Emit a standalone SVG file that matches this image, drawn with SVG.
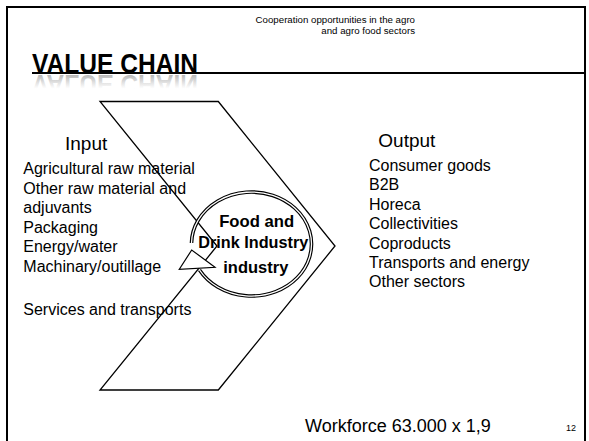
<svg xmlns="http://www.w3.org/2000/svg" width="589" height="441" viewBox="0 0 589 441">
<defs>
<linearGradient id="refl" x1="0" y1="0" x2="0" y2="1">
<stop offset="0.35" stop-color="#888" stop-opacity="0"/>
<stop offset="1" stop-color="#666" stop-opacity="0.75"/>
</linearGradient>
</defs>
<style>
.t{font-family:"Liberation Sans",Arial,sans-serif;fill:#000}
.li{font-size:16px}
.hd{font-size:19px}
.b{font-weight:bold;font-size:17px}
.ln{fill:none;stroke:#000;stroke-width:1.3}
</style>
<rect width="589" height="441" fill="#fff"/>
<g id="frame">
<path d="M7,441 V7 H585 V441" fill="none" stroke="#000" stroke-width="2"/>
<line x1="32" y1="73" x2="585" y2="73" stroke="#000" stroke-width="2"/>
</g>
<g id="header">
<text class="t" x="415" y="23.3" font-size="9.7" text-anchor="end">Cooperation opportunities in the agro</text>
<text class="t" x="415" y="34" font-size="9.7" text-anchor="end">and agro food sectors</text>
</g>
<g id="title">
<text class="t" x="32" y="72.5" font-size="28" font-weight="bold" textLength="166" lengthAdjust="spacingAndGlyphs" style="font-family:'Liberation Sans Narrow','Liberation Sans',sans-serif">VALUE CHAIN</text>
<text x="32" y="72.5" font-size="28" font-weight="bold" textLength="166" lengthAdjust="spacingAndGlyphs" transform="translate(0,147) scale(1,-1)" fill="url(#refl)" style="font-family:'Liberation Sans Narrow','Liberation Sans',sans-serif">VALUE CHAIN</text>
</g>
<g id="chevron">
<polygon class="ln" points="100,101.5 218.3,101.5 335,246 218.3,390 100,390 217,246"/>
</g>
<g id="input">
<text class="t hd" x="65" y="150">Input</text>
<text class="t li" x="23.3" y="174">Agricultural raw material</text>
<text class="t li" x="23.3" y="193.5">Other raw material and</text>
<text class="t li" x="23.3" y="213">adjuvants</text>
<text class="t li" x="23.3" y="232.5">Packaging</text>
<text class="t li" x="23.3" y="252">Energy/water</text>
<text class="t li" x="23.3" y="271.5">Machinary/outillage</text>
<text class="t li" x="23.3" y="315">Services and transports</text>
</g>
<g id="output">
<text class="t hd" x="378.3" y="146.7">Output</text>
<text class="t li" x="369" y="171">Consumer goods</text>
<text class="t li" x="369" y="190.4">B2B</text>
<text class="t li" x="369" y="209.8">Horeca</text>
<text class="t li" x="369" y="229.2">Collectivities</text>
<text class="t li" x="369" y="248.6">Coproducts</text>
<text class="t li" x="369" y="268">Transports and energy</text>
<text class="t li" x="369" y="287.4">Other sectors</text>
</g>
<g id="connectors">
<path d="M191.5,243 A60 52 0 1 1 199.5,270" fill="none" stroke="#000" stroke-width="3.6"/>
<path d="M191.5,243 A60 52 0 1 1 199.5,270" fill="none" stroke="#fff" stroke-width="1.3"/>
<polygon points="191.7,250 179.3,269.3 215,267.3" fill="#fff" stroke="#000" stroke-width="1.2"/>
</g>
<g id="industry">
<text class="t b" x="256.7" y="226.7" text-anchor="middle" textLength="75" lengthAdjust="spacingAndGlyphs">Food and</text>
<text class="t b" x="253.3" y="247.7" text-anchor="middle" textLength="110" lengthAdjust="spacingAndGlyphs">Drink Industry</text>
<text class="t b" x="255.8" y="272.7" text-anchor="middle" textLength="65" lengthAdjust="spacingAndGlyphs">industry</text>
</g>
<g id="workforce">
<text class="t" x="305" y="431.7" font-size="18">Workforce 63.000 x 1,9</text>
</g>
<g id="page">
<text class="t" x="566" y="431" font-size="9">12</text>
</g>
</svg>
